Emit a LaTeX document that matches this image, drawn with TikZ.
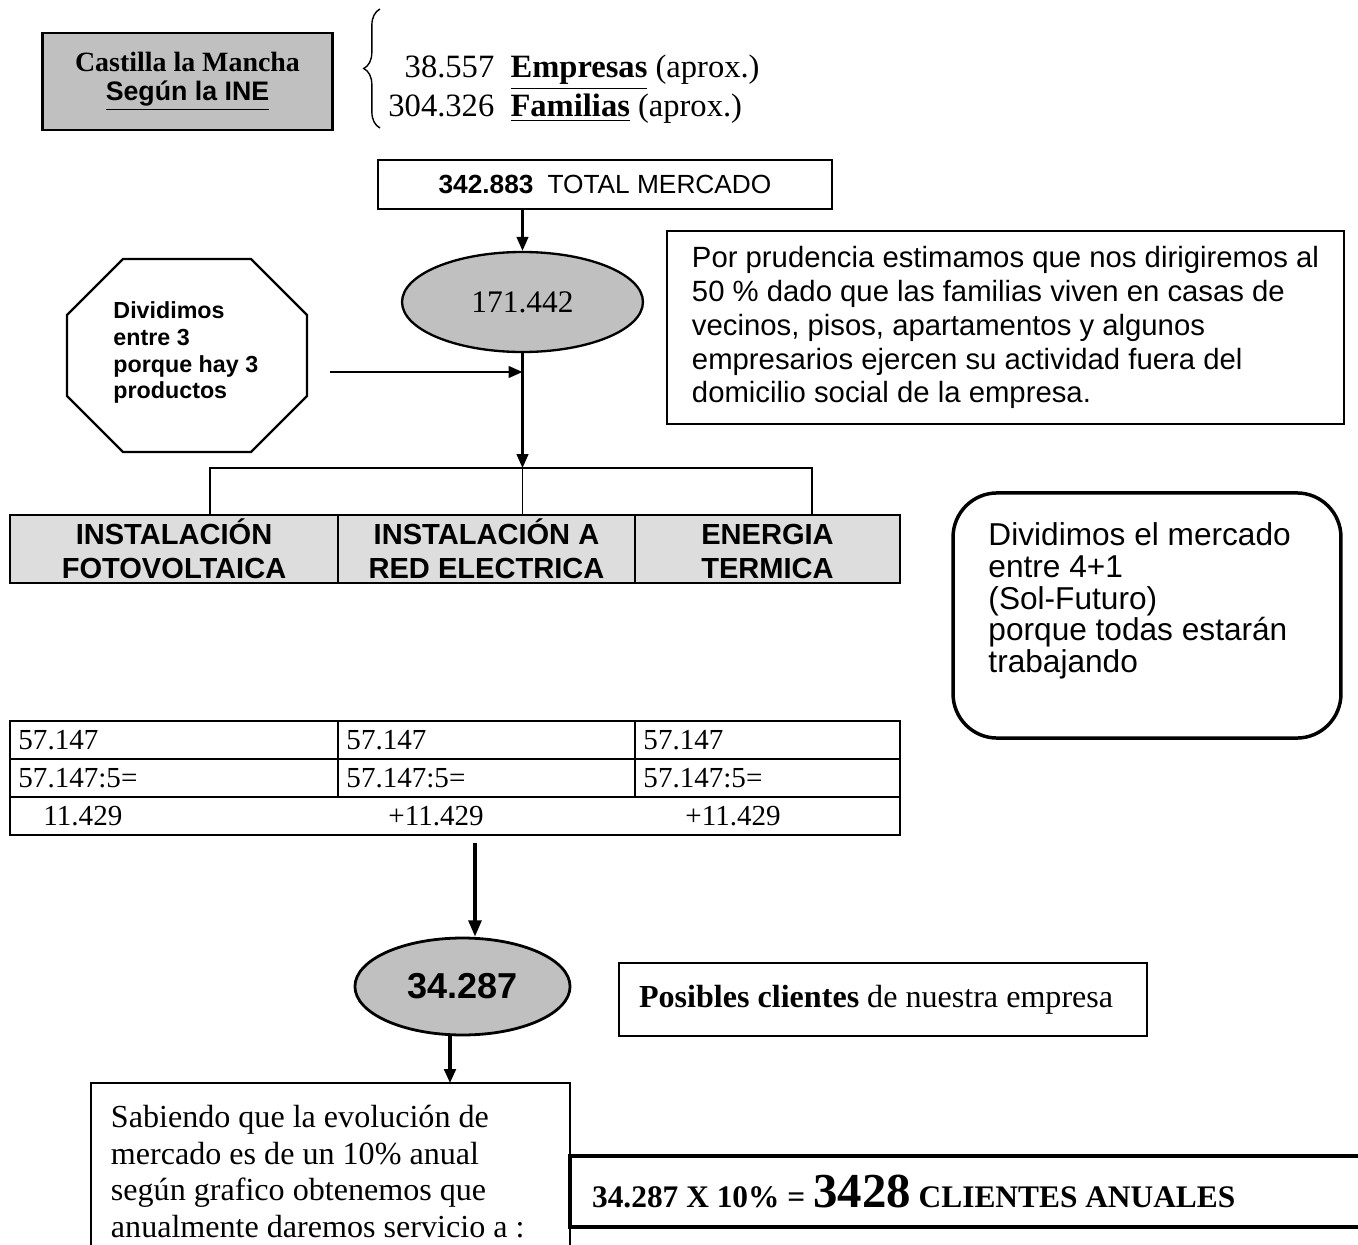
\documentclass[tikz,border=0pt]{standalone}
\usepackage{fontspec}
\setmainfont{Liberation Serif}
\setsansfont{Liberation Sans}
\usetikzlibrary{shapes.geometric,arrows.meta,decorations.pathreplacing}

\definecolor{grisoscuro}{HTML}{C0C0C0}
\definecolor{grisclaro}{HTML}{DDDDDD}

\tikzset{
  caja/.style={draw, line width=1pt, inner sep=0pt},
  celda/.style={draw, line width=1.2pt, fill=grisclaro, inner sep=0pt, minimum height=29.2pt,
    align=center, font=\fontsize{12.5}{14.6}\selectfont\sffamily\bfseries},
  cifra/.style={anchor=west, inner sep=0pt, font=\fontsize{12.5}{14}\selectfont},
  dato/.style={anchor=base west, inner sep=0pt, font=\fontsize{14}{16}\selectfont},
  flecha/.style={line width=1pt, -{Triangle[length=6pt,width=5pt]}},
  flechagruesa/.style={line width=1.5pt, -{Triangle[length=7pt,width=5.5pt]}},
}

\begin{document}
\begin{tikzpicture}[x=0.43pt, y=-0.43pt]
  % page frame, in pixels of the original sheet
  \useasboundingbox (0,0) rectangle (1358,1245);

  % source and the two figures behind the brace
  \node[caja, fill=grisoscuro, minimum width=124.7pt, minimum height=41.7pt, align=center,
    font=\fontsize{12}{12.5}\selectfont] (ine) at (187.5,81.5)
    {\bfseries Castilla la Mancha\\
     \fontsize{11.5}{12.5}\selectfont\sffamily\bfseries\underline{Según la INE}};
  \draw[line width=0.6pt, decorate, decoration={brace, amplitude=7pt}] (380,128) -- (380,9);
  \node[dato] (empresas) at (388,78)
    {\makebox[45.5pt][r]{38.557}\hspace{7pt}\textbf{\underline{Empresas}} (aprox.)};
  \node[dato] (familias) at (388,117)
    {\makebox[45.5pt][r]{304.326}\hspace{7pt}\textbf{\underline{Familias}} (aprox.)};

  % total market and the half of it
  \node[caja, minimum width=195.2pt, minimum height=21.1pt, font=\fontsize{11.3}{13}\selectfont\sffamily]
    (total) at (605,184.5) {\textbf{342.883}\hspace{6pt}TOTAL MERCADO};
  \node[draw, ellipse, line width=1pt, fill=grisoscuro, inner sep=0pt,
    minimum width=103.6pt, minimum height=43pt, font=\fontsize{13.5}{15}\selectfont] (mitad) at (522.5,302)
    {171.442};
  \draw[flecha] (mitad.north |- total.south) -- (mitad.north);

  \node[caja, line width=1.2pt, minimum width=291.1pt, minimum height=83pt, align=left,
    font=\fontsize{12.6}{14.6}\selectfont\sffamily] (prudencia) at (1005.5,327.5)
    {Por prudencia estimamos que nos dirigiremos al\\
     50 \% dado que las familias viven en casas de\\
     vecinos, pisos, apartamentos y algunos\\
     empresarios ejercen su actividad fuera del\\
     domicilio social de la empresa.};

  % octagon with the note on the three products
  \draw[line width=1pt] (123,259) -- (251,259) -- (307,315) -- (307,396) -- (251,452)
    -- (123,452) -- (67,396) -- (67,315) -- cycle;
  \node[anchor=west, align=left, inner sep=0pt, font=\fontsize{10}{11.6}\selectfont\sffamily\bfseries]
    (tres) at (113,352.5) {Dividimos\\ entre 3\\ porque hay 3\\ productos};
  \coordinate (salida) at (330,372);
  \draw[flecha] (salida) -- (salida -| mitad.south);

  % split into the three products
  \coordinate (reparto) at (522.5,468);
  \draw[flecha] (mitad.south) -- (reparto);
  \node[celda, minimum width=141pt] (foto) at (174,549) {INSTALACIÓN\\FOTOVOLTAICA};
  \node[celda, minimum width=127.7pt] (red) at (486.5,549) {INSTALACIÓN A\\RED ELECTRICA};
  \node[celda, minimum width=114pt] (termica) at (767.5,549) {\vphantom{Ó}ENERGIA\\TERMICA};
  \coordinate (ramaI) at (210,468);
  \coordinate (ramaD) at (812,468);
  \draw[line width=0.8pt] (reparto) -- (reparto |- red.north);
  \draw[line width=0.8pt] (ramaI |- foto.north) -- (ramaI) -- (ramaD) -- (ramaD |- termica.north);

  % rounded note
  \node[draw, line width=1.5pt, rounded corners=19pt, minimum width=166.8pt, minimum height=105.4pt]
    (redondo) at (1147,615.5) {};
  \node[anchor=west, align=left, inner sep=0pt, font=\fontsize{13.6}{13.6}\selectfont\sffamily]
    (cuatro) at (988,601)
    {Dividimos el mercado\\ entre 4+1\\ (Sol-Futuro)\\ porque todas estarán\\ trabajando};

  % table of figures
  \draw[line width=1.2pt] (10,721) rectangle (900,835);
  \foreach \y in {759,797} \draw[line width=1.2pt] (10,\y) -- (900,\y);
  \foreach \x in {338,635} \draw[line width=1pt] (\x,721) -- (\x,797);
  \foreach \x/\n in {18/a,346/b,643/c} {
    \node[cifra] (valor\n) at (\x,740) {57.147};
    \node[cifra] (cociente\n) at (\x,778) {57.147:5=};
  }
  \node[cifra] (parteA) at (43,816) {11.429};
  \node[cifra] (parteB) at (388,816) {+11.429};
  \node[cifra] (parteC) at (685,816) {+11.429};

  % possible clients
  \node[draw, ellipse, line width=1.2pt, fill=grisoscuro, inner sep=0pt,
    minimum width=92.5pt, minimum height=41.7pt, font=\fontsize{15.5}{17}\selectfont\sffamily\bfseries]
    (posibles) at (462.5,986.5) {34.287};
  \coordinate (bajada) at (475,843);
  \draw[flechagruesa] (bajada) -- (bajada |- posibles.north);
  \node[caja, line width=1.2pt, minimum width=227pt, minimum height=31.4pt, text width=209.8pt,
    inner xsep=8.6pt, align=flush left, font=\fontsize{13.8}{16}\selectfont] (clientes) at (883,999.5)
    {\textbf{Posibles clientes} de nuestra empresa};

  % yearly clients
  \node[caja, minimum width=206pt, minimum height=76pt, text width=188.8pt, inner xsep=8.6pt,
    align=flush left, font=\fontsize{13.8}{15.8}\selectfont] (sabiendo) at (330.5,1171.5)
    {Sabiendo que la evolución de\\ mercado es de un 10\% anual\\
     según grafico obtenemos que\\ anualmente daremos servicio a :};
  \coordinate (entrada) at (450,1083);
  \draw[flecha, line width=1.3pt] (entrada |- posibles.south) -- (entrada);
  \node[caja, line width=1.4pt, minimum width=348.3pt, minimum height=30.5pt, text width=329.3pt,
    inner xsep=9.5pt, align=flush left, font=\fontsize{13.5}{15}\selectfont\bfseries] (anuales) at (975,1191.5)
    {34.287 X 10\% = {\fontsize{21}{22}\selectfont 3428} CLIENTES ANUALES};
\end{tikzpicture}
\end{document}
